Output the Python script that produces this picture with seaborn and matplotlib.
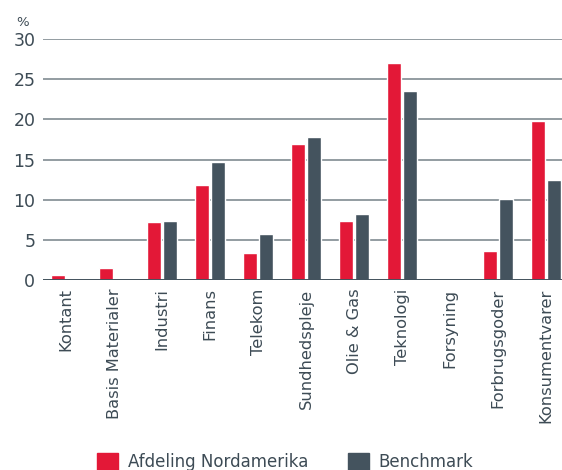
import numpy as np
import pandas as pd
import seaborn as sns
import matplotlib.pyplot as plt

categories = ["Kontant", "Basis Materialer", "Industri", "Finans", "Telekom",
              "Sundhedspleje", "Olie & Gas", "Teknologi", "Forsyning",
              "Forbrugsgoder", "Konsumentvarer"]
afdeling = [0.6, 1.5, 7.2, 11.8, 3.4, 16.9, 7.35, 27.0, 0.05, 3.6, 19.8]
benchmark = [0.05, 0.0, 7.35, 14.7, 5.7, 17.8, 8.2, 23.5, 0.0, 10.1, 12.45]
series = ["Afdeling Nordamerika", "Benchmark"]
colors = ["#E31837", "#44535E"]


def main():
    sns.set_theme(style="white")
    plt.rcParams['font.family'] = ['DejaVu Sans']
    text_col = "#3d4b55"

    df = pd.DataFrame({
        "Kategori": categories * 2,
        "Værdi": afdeling + benchmark,
        "Serie": [series[0]] * len(categories) + [series[1]] * len(categories),
    })

    fig = plt.figure(figsize=(5.62, 4.70), dpi=100)
    ax = fig.add_axes([0.0765, 0.404, 0.9235, 0.513])
    sns.barplot(data=df, x="Kategori", y="Værdi", hue="Serie", order=categories,
                hue_order=series, palette=colors, width=0.66, gap=0.12,
                saturation=1, ax=ax, legend=False, zorder=3)

    ax.set_ylim(0, 30)
    ax.set_xlim(-0.48, 10.33)
    ax.set_yticks([0, 5, 10, 15, 20, 25, 30])
    ax.yaxis.grid(True, color="#8a949a", linewidth=1.3, zorder=0)
    ax.axhline(0, color="#44535E", linewidth=1.4, zorder=4)
    for s in ax.spines.values():
        s.set_visible(False)
    ax.set_xlabel("")
    ax.set_ylabel("")
    ax.tick_params(axis="y", length=0, pad=5.5, labelsize=12.5, labelcolor=text_col)
    ax.tick_params(axis="x", length=0, pad=6, labelsize=11.7, labelcolor=text_col)
    ax.set_xticks(range(len(categories)))
    ax.set_xticklabels(categories, rotation=90)
    fig.text(23 / 562, 1 - 22 / 470, "%", fontsize=9.5, color=text_col,
             ha="center", va="center")

    handles = [plt.Rectangle((0, 0), 1, 1, color=c) for c in colors]
    fig.legend(handles, series, loc="upper left",
               bbox_to_anchor=(97 / 562, 1 - 453 / 470),
               ncol=2, frameon=False, borderpad=0, borderaxespad=0,
               handlelength=1.26, handleheight=1.26,
               handletextpad=0.6, columnspacing=2.35, fontsize=12,
               labelcolor=text_col)

    fig.savefig("out.png", dpi=100)


main()
